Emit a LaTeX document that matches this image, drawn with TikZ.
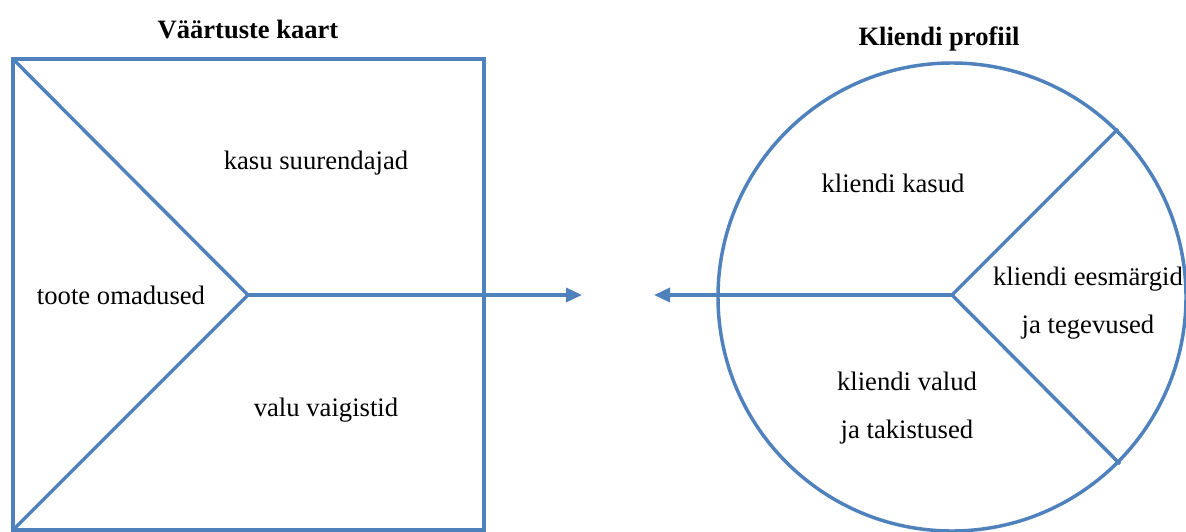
\documentclass[tikz,border=0pt]{standalone}
\usepackage{fontspec}
\setmainfont{Liberation Serif}
\usetikzlibrary{arrows.meta}
\definecolor{lineblue}{RGB}{79,129,189}
\tikzset{
  shapeline/.style={draw=lineblue, line width=2.6pt, line join=miter},
  flowarrow/.style={draw=lineblue, line width=2.6pt, -{Triangle[length=12pt,width=10.5pt]}},
  lbl/.style={font=\fontsize{20pt}{36pt}\selectfont, align=center, inner sep=0pt},
  ttl/.style={font=\fontsize{19.9pt}{24pt}\selectfont\bfseries, inner sep=0pt}
}
\begin{document}
\begin{tikzpicture}[x=0.75pt, y=-0.75pt]
\useasboundingbox (0,0) rectangle (1186,532);
% value map square
\coordinate (sqTL) at (13,59);
\coordinate (sqTR) at (484,59);
\coordinate (sqBR) at (484,530);
\coordinate (sqBL) at (13,530);
\coordinate (vm) at (248,295);
\draw[shapeline] (sqTL) -- (sqTR) -- (sqBR) -- (sqBL) -- cycle;
\draw[shapeline] (sqTL) -- (vm) -- (sqBL);
% customer profile circle
\coordinate (circ) at (952,297);
\draw[shapeline] (circ) circle[radius=234];
\coordinate (cc) at (952,295);
\coordinate (cUp) at (1118,129);
\coordinate (cDn) at (1120,464);
\draw[shapeline] (cUp) -- (cc) -- (cDn);
% arrows
\coordinate (tipR) at (582,295);
\coordinate (tipL) at (654,295);
\draw[flowarrow] (vm) -- (tipR);
\draw[flowarrow] (cc) -- (tipL);
% titles
\node[ttl] (t1) at (248,29) {Väärtuste kaart};
\node[ttl] (t2) at (939,39) {Kliendi profiil};
% labels
\node[lbl] (gain) at (316,163) {kasu suurendajad};
\node[lbl] (feat) at (121,295) {toote omadused};
\node[lbl] (pain) at (326,410) {valu vaigistid};
\node[lbl] (cgain) at (893,183) {kliendi kasud};
\node[lbl] (cjob) at (1088,303) {kliendi eesmärgid\\ja tegevused};
\node[lbl] (cpain) at (907,408) {kliendi valud\\ja takistused};
\end{tikzpicture}
\end{document}
